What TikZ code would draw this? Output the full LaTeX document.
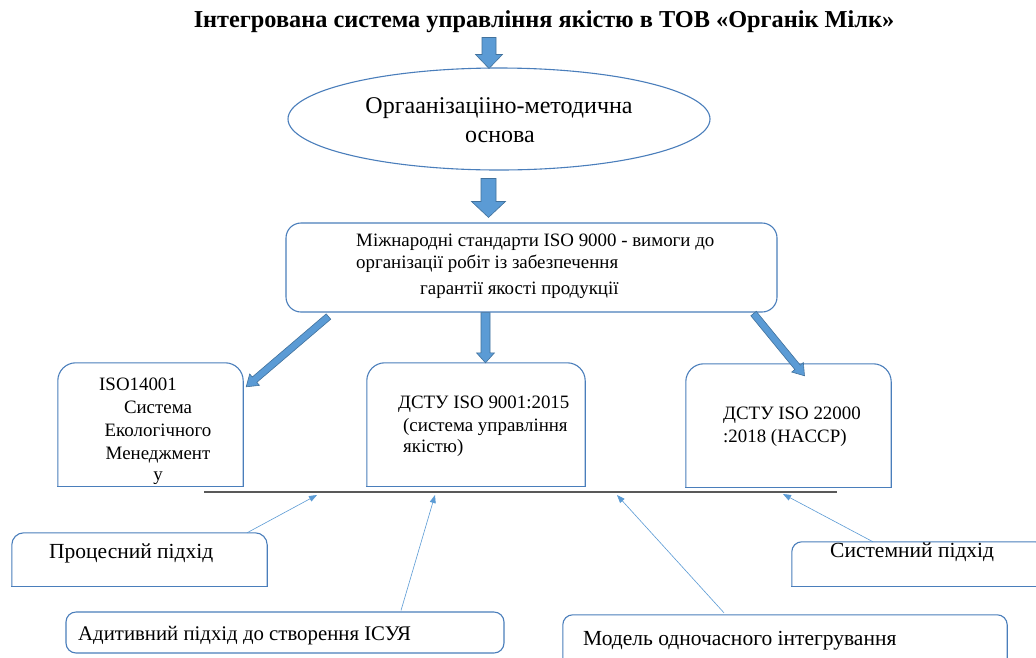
\documentclass[tikz,border=0pt]{standalone}
\usepackage{fontspec}
\setmainfont{Liberation Serif}
\newfontfamily\tms{Liberation Serif}
\usetikzlibrary{calc,shapes.geometric,arrows.meta}
\definecolor{boxblue}{HTML}{4A7EBB}
\definecolor{arrfill}{HTML}{5B9BD5}
\definecolor{arrdraw}{HTML}{41719C}
\definecolor{thinblue}{HTML}{5B9BD5}
\definecolor{linegray}{HTML}{595959}
\newcommand\barrow[5]{%
  \coordinate (hb) at ($(#2)!#5!(#1)$);
  \filldraw[blockarrow] ($(#1)!#3!90:(#2)$) -- ($(hb)!#3!-90:(#1)$) -- ($(hb)!#4!-90:(#1)$) -- (#2) -- ($(hb)!#4!90:(#1)$) -- ($(hb)!#3!90:(#1)$) -- ($(#1)!#3!-90:(#2)$) -- cycle;}
\newcommand\topbox[2]{%
  \draw[boxline, rounded corners=#2] (#1.south west) -- (#1.north west) -- (#1.north east) -- (#1.south east);
  \draw[boxline] (#1.south west) -- (#1.south east);}
\tikzset{
  boxline/.style={draw=boxblue, line width=1.1pt, line cap=rect},
  boxnode/.style={rectangle, inner sep=0pt},
  blockarrow/.style={fill=arrfill, draw=arrdraw, line width=0.6pt, line join=miter},
  thinarrow/.style={draw=thinblue, line width=0.6pt, -{Triangle[length=8pt,width=6pt]}},
  ttl/.style={font=\tms\fontsize{24.3}{29}\selectfont\bfseries, inner sep=0pt},
  big/.style={font=\tms\fontsize{24}{29}\selectfont, inner sep=0pt},
  mid/.style={font=\tms\fontsize{18.9}{23}\selectfont, inner sep=0pt},
  low/.style={font=\tms\fontsize{21.5}{25}\selectfont, inner sep=0pt},
}
\begin{document}
\begin{tikzpicture}[x=1pt, y=-1pt]
\clip (0,0) rectangle (1036,657);
\fill[white] (0,0) rectangle (1036,657);

% title
\node[ttl, anchor=base] (title) at (544,27) {Інтегрована система управління якістю в ТОВ «Органік Мілк»};

% ellipse
\node[ellipse, draw=boxblue, line width=1.1pt, minimum width=422pt, minimum height=102pt, inner sep=0pt] (ell) at (499,119) {};
\node[big, anchor=base] (ell1) at (499,113) {Оргаанізацііно-методична};
\node[big, anchor=base] (ell2) at (500,142) {основа};

% ISO 9000 box
\node[boxnode, draw=boxblue, line width=1.1pt, rounded corners=15pt, minimum width=491pt, minimum height=89pt] (b0) at (531.5,267.5) {};
\node[mid, anchor=base west] (b0t1) at (356,246) {Міжнародні стандарти ISO 9000 - вимоги до};
\node[mid, anchor=base west] (b0t2) at (356,268) {організації робіт із забезпечення};
\node[mid, anchor=base west] (b0t3) at (420,294) {гарантії якості продукції};

% standard boxes
\node[boxnode, minimum width=185pt, minimum height=123pt] (b1) at (150.5,424.5) {};
\topbox{b1}{18pt}
\node[mid, anchor=base west] (b1t1) at (99,390) {ISO14001};
\node[mid, anchor=base] (b1t2) at (158,413) {Система};
\node[mid, anchor=base] (b1t3) at (158,436) {Екологічного};
\node[mid, anchor=base] (b1t4) at (158,459) {Менеджмент};
\node[mid, anchor=base] (b1t5) at (158,480) {у};

\node[boxnode, minimum width=218pt, minimum height=123pt] (b2) at (476,424.5) {};
\topbox{b2}{18pt}
\node[mid, anchor=base west] (b2t1) at (398,408) {ДСТУ ISO 9001:2015};
\node[mid, anchor=base west] (b2t2) at (403,431) {(система управління};
\node[mid, anchor=base west] (b2t3) at (403,452) {якістю)};

\node[boxnode, minimum width=205pt, minimum height=123pt] (b3) at (788.5,425.5) {};
\topbox{b3}{18pt}
\node[mid, anchor=base west] (b3t1) at (723,419) {ДСТУ ISO 22000};
\node[mid, anchor=base west] (b3t2) at (723,442) {:2018 (HACCP)};

% horizontal line
\coordinate (hlA) at (204,492);
\coordinate (hlB) at (837,492);
\draw[draw=linegray, line width=1.5pt] (hlA) -- (hlB);

% approach boxes
\node[boxnode, minimum width=255pt, minimum height=53pt] (b4) at (139.5,559.5) {};
\topbox{b4}{12pt}
\node[low, anchor=base west] (b4t) at (49,558) {Процесний підхід};

\node[boxnode, minimum width=253pt, minimum height=44pt] (b5) at (918.5,564) {};
\topbox{b5}{10pt}
\node[low, anchor=base west] (b5t) at (830,557) {Системний підхід};

\node[boxnode, draw=boxblue, line width=1.1pt, rounded corners=10pt, minimum width=438pt, minimum height=41pt] (b6) at (285,632.5) {};
\node[low, font=\tms\fontsize{20.8}{25}\selectfont, anchor=base west] (b6t) at (78,640) {Адитивний підхід до створення ІСУЯ};

\node[boxnode, minimum width=444pt, minimum height=60pt] (b7) at (785,645) {};
\topbox{b7}{10pt}
\node[low, anchor=base west] (b7t) at (583,645) {Модель одночасного інтегрування};

% block arrows
\coordinate (a1s) at ($(ell.north)+(-10,-30)$);
\coordinate (a1e) at ($(ell.north)+(-10,1)$);
\barrow{a1s}{a1e}{7pt}{13.5pt}{14pt}
\coordinate (a2s) at ($(b0.north)+(-43,-44)$);
\coordinate (a2e) at ($(b0.north)+(-43,-5)$);
\barrow{a2s}{a2e}{7.5pt}{17pt}{16pt}
\coordinate (a3s) at ($(b0.south)+(-46,0)$);
\coordinate (a3e) at ($(b2.north)+(9.5,0)$);
\barrow{a3s}{a3e}{4.5pt}{9pt}{10pt}
\coordinate (a4s) at ($(b0.south west)+(43,4)$);
\coordinate (a4e) at ($(b1.north east)+(3,24)$);
\barrow{a4s}{a4e}{3.5pt}{7.5pt}{11pt}
\coordinate (a5s) at ($(b0.south east)+(-24,1)$);
\coordinate (a5e) at ($(b3.north)+(16,12)$);
\barrow{a5s}{a5e}{3.5pt}{7.5pt}{11pt}

% thin arrows
\coordinate (t4s) at ($(b4.north)+(107.5,0)$);
\coordinate (t4e) at (317,495);
\draw[thinarrow] (t4s) -- (t4e);
\coordinate (t6s) at ($(b6.north)+(116,-1)$);
\coordinate (t6e) at (435,495);
\draw[thinarrow] (t6s) -- (t6e);
\coordinate (t7s) at ($(b7.north)+(-61,-2)$);
\coordinate (t7e) at (617,495);
\draw[thinarrow] (t7s) -- (t7e);
\coordinate (t5s) at ($(b5.north)+(-45.5,0)$);
\coordinate (t5e) at (783,494);
\draw[thinarrow] (t5s) -- (t5e);
\end{tikzpicture}
\end{document}
